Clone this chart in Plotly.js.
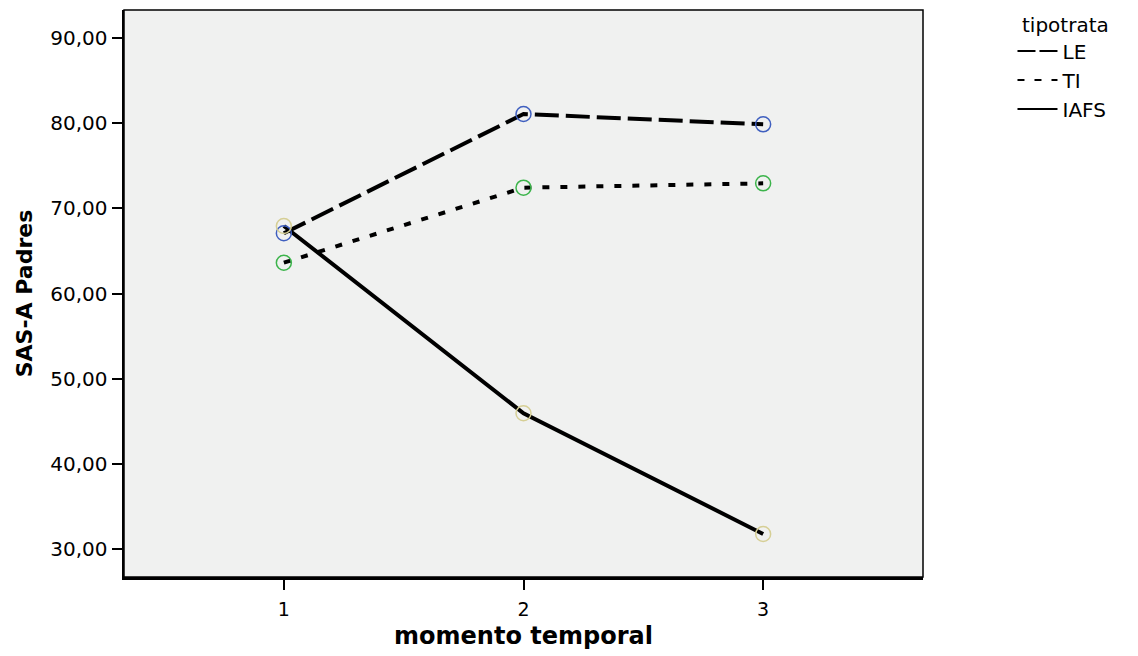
<!DOCTYPE html>
<html>
<head>
<meta charset="utf-8">
<script src="https://cdn.plot.ly/plotly-3.0.1.min.js"></script>
<style>html,body{margin:0;padding:0;background:#fff;}#chart{width:1138px;height:656px;}</style>
</head>
<body>
<div id="chart"></div>
<script>
const momentos = [1, 2, 3];
const seriesNames = ["LE", "TI", "IAFS"];
const valuesLE = [67.08, 81.10, 79.89];
const valuesTI = [63.62, 72.44, 72.95];
const valuesIAFS = [67.94, 45.92, 31.73];
const yTicks = [30, 40, 50, 60, 70, 80, 90];
const xTicks = [1, 2, 3];

const seriesValues = [valuesLE, valuesTI, valuesIAFS];
const dashes = ["24px,7px", "7px,11px", "solid"];
const legendDashes = ["18px,4px", "7px,10px", "solid"];
const markerColors = ["#3f5fbf", "#3cb44b", "#d6cf95"];
const FONT = "DejaVu Sans, Verdana, sans-serif";

const traces = [];
// legend-only entries (single point, so no line is drawn in the plot)
seriesValues.forEach((vals, i) => {
  traces.push({
    x: [momentos[0]], y: [vals[0]], name: seriesNames[i], type: "scatter", mode: "lines",
    line: {color: "#000", width: 2, dash: legendDashes[i]},
    showlegend: true, hoverinfo: "skip"
  });
});
seriesValues.forEach((vals, i) => {
  traces.push({
    x: momentos, y: vals, name: seriesNames[i], type: "scatter", mode: "lines",
    line: {color: "#000", width: 4, dash: dashes[i]},
    showlegend: false, hoverinfo: "skip"
  });
});
seriesValues.forEach((vals, i) => {
  traces.push({
    x: momentos, y: vals, name: seriesNames[i], type: "scatter", mode: "markers",
    showlegend: false,
    marker: {symbol: "circle-open", size: 15, color: markerColors[i], line: {width: 1.5, color: markerColors[i]}}
  });
});

const layout = {
  width: 1138, height: 656,
  margin: {l: 124, r: 215, t: 10, b: 79},
  paper_bgcolor: "#ffffff",
  plot_bgcolor: "#f0f1f0",
  separators: ",.",
  font: {family: FONT, color: "#000"},
  xaxis: {
    range: [0.333, 3.667], tickvals: xTicks, ticktext: xTicks.map(String),
    showgrid: false, zeroline: false,
    showline: true, linecolor: "#000", linewidth: 2.5,
    ticks: "outside", ticklen: 10, tickwidth: 2, tickcolor: "#000",
    ticklabelstandoff: 4,
    tickfont: {size: 19, family: FONT, color: "#000"},
    title: {text: "momento temporal", font: {size: 24, family: FONT, weight: "bold", color: "#000"}, standoff: 8}
  },
  yaxis: {
    range: [26.67, 93.33], tickvals: yTicks, tickformat: ".2f",
    showgrid: false, zeroline: false,
    showline: true, linecolor: "#000", linewidth: 2.5,
    ticks: "outside", ticklen: 10, tickwidth: 2, tickcolor: "#000",
    tickfont: {size: 20, family: FONT, color: "#000"},
    title: {text: "SAS-A Padres", font: {size: 22, family: FONT, weight: "bold", color: "#000"}, standoff: 12}
  },
  shapes: [{
    type: "rect", xref: "paper", yref: "paper", x0: 0, x1: 1, y0: 0, y1: 1,
    line: {color: "#000", width: 1.5}, fillcolor: "rgba(0,0,0,0)", layer: "above"
  }],
  annotations: [{
    text: "tipotrata", xref: "paper", yref: "paper", x: 1.1214, y: 0.9735,
    xanchor: "left", yanchor: "middle", showarrow: false,
    font: {size: 20, family: FONT, color: "#000"}
  }],
  legend: {
    x: 1.112, y: 0.962, xanchor: "left", yanchor: "top",
    bgcolor: "rgba(0,0,0,0)",
    font: {size: 20, family: FONT, color: "#000"},
    itemwidth: 40, tracegroupgap: 0
  },
  showlegend: true
};

Plotly.newPlot("chart", traces, layout, {displayModeBar: false, staticPlot: true});
</script>
</body>
</html>
